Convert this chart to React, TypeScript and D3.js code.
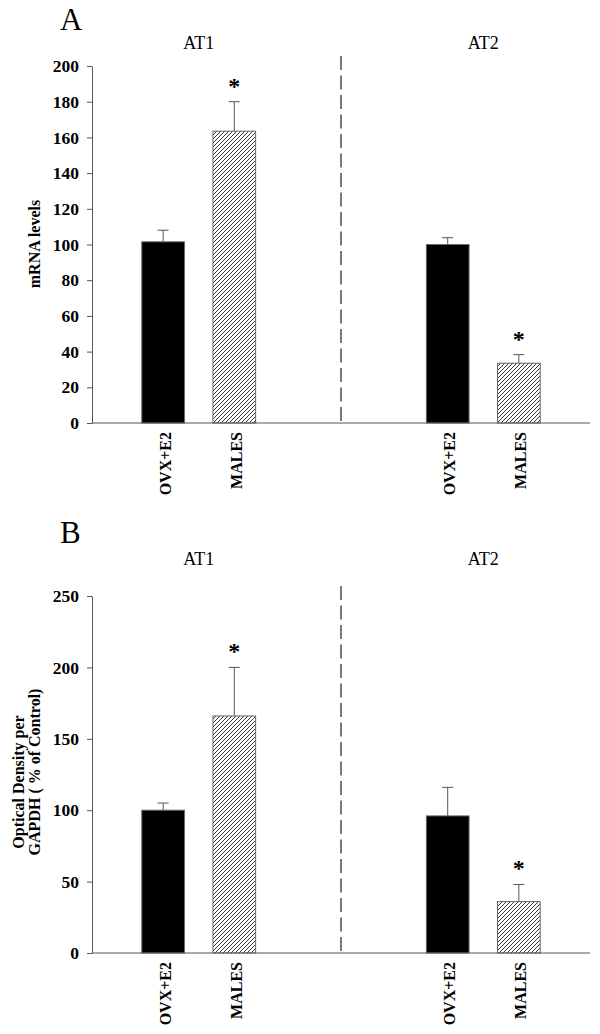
import { useEffect, useRef } from "react";
import * as d3 from "d3";

// ----- Data ------------------------------------------------------------------
const groups = ["AT1", "AT2"];
const conditions = ["OVX+E2", "MALES", "OVX+E2", "MALES"];
const slots = [1, 2, 5, 6]; // bar positions on the numeric x axis
const groupCentres = [1.5, 5.5];
const divider = 3.5;
const xDomain: [number, number] = [0, 7];
const hatched = [false, true, false, true];

// Panel A: mRNA levels
const mrnaMean = [101.5, 163.5, 100, 33.5];
const mrnaErr = [6.5, 16.5, 3.8, 4.8];
const mrnaStar = [false, true, false, true];
const mrnaTicks = [0, 20, 40, 60, 80, 100, 120, 140, 160, 180, 200];

// Panel B: optical density per GAPDH
const odMean = [100, 166, 96, 36];
const odErr = [5, 34, 20, 12];
const odStar = [false, true, false, true];
const odTicks = [0, 50, 100, 150, 200, 250];

const FONT = "'Liberation Serif', 'Times New Roman', serif";
const AXIS = "#555";

interface Panel {
  letter: string;
  letterY: number;
  titleY: number;
  top: number;
  bottom: number;
  ticks: number[];
  mean: number[];
  err: number[];
  star: boolean[];
  yLabel: string[];
  yLabelX: number[];
  yLabelY: number[];
}

const panels: Panel[] = [
  {
    letter: "A",
    letterY: 30,
    titleY: 49,
    top: 66,
    bottom: 423,
    ticks: mrnaTicks,
    mean: mrnaMean,
    err: mrnaErr,
    star: mrnaStar,
    yLabel: ["mRNA levels"],
    yLabelX: [40],
    yLabelY: [244],
  },
  {
    letter: "B",
    letterY: 543,
    titleY: 565,
    top: 596,
    bottom: 953,
    ticks: odTicks,
    mean: odMean,
    err: odErr,
    star: odStar,
    yLabel: ["Optical Density per", "GAPDH ( % of Control)"],
    yLabelX: [24, 40],
    yLabelY: [782, 772],
  },
];

const App = () => {
  const svgRef = useRef<SVGSVGElement | null>(null);

  useEffect(() => {
    const svg = d3.select(svgRef.current);
    svg.selectAll("*").remove();

    // hatch pattern for the MALES bars
    const defs = svg.append("defs");
    defs
      .append("pattern")
      .attr("id", "hatch")
      .attr("patternUnits", "userSpaceOnUse")
      .attr("width", 4)
      .attr("height", 4)
      .call((p: any) => {
        p.append("rect").attr("width", 4).attr("height", 4).attr("fill", "#fff");
        p.append("path")
          .attr("d", "M-1,1 l2,-2 M0,4 l4,-4 M3,5 l2,-2")
          .attr("stroke", "#222")
          .attr("stroke-width", 0.9);
      });

    const x = d3.scaleLinear().domain(xDomain).range([92, 590]);
    const barW = x(0.6) - x(0);

    panels.forEach((pn) => {
      const maxT = pn.ticks[pn.ticks.length - 1];
      const y = d3.scaleLinear().domain([0, maxT]).range([pn.bottom, pn.top]);
      const g = svg.append("g");

      // panel letter & group titles
      g.append("text")
        .attr("x", 60)
        .attr("y", pn.letterY)
        .attr("font-family", FONT)
        .attr("font-size", 31)
        .text(pn.letter);

      groups.forEach((grp, i) => {
        g.append("text")
          .attr("x", x(groupCentres[i]))
          .attr("y", pn.titleY)
          .attr("text-anchor", "middle")
          .attr("font-family", FONT)
          .attr("font-size", 18)
          .text(grp);
      });

      // dashed divider
      g.append("line")
        .attr("x1", x(divider))
        .attr("x2", x(divider))
        .attr("y1", pn.top - 10)
        .attr("y2", pn.bottom)
        .attr("stroke", "#333")
        .attr("stroke-width", 1.3)
        .attr("stroke-dasharray", "14,5.5");

      // bars
      slots.forEach((s, i) => {
        const bx = x(s) - barW / 2;
        g.append("rect")
          .attr("x", bx)
          .attr("y", y(pn.mean[i]))
          .attr("width", barW)
          .attr("height", y(0) - y(pn.mean[i]))
          .attr("fill", hatched[i] ? "url(#hatch)" : "#000")
          .attr("stroke", "#666")
          .attr("stroke-width", 1);

        // error bar
        const eTop = y(pn.mean[i] + pn.err[i]);
        g.append("line")
          .attr("x1", x(s))
          .attr("x2", x(s))
          .attr("y1", y(pn.mean[i]))
          .attr("y2", eTop)
          .attr("stroke", AXIS)
          .attr("stroke-width", 1);
        g.append("line")
          .attr("x1", x(s) - 5.5)
          .attr("x2", x(s) + 5.5)
          .attr("y1", eTop)
          .attr("y2", eTop)
          .attr("stroke", AXIS)
          .attr("stroke-width", 1);

        if (pn.star[i]) {
          g.append("text")
            .attr("x", x(s))
            .attr("y", eTop - 8)
            .attr("text-anchor", "middle")
            .attr("font-family", FONT)
            .attr("font-weight", "bold")
            .attr("font-size", 24)
            .text("*");
        }

        // rotated category label
        g.append("text")
          .attr(
            "transform",
            `translate(${x(s) + 7.5},${pn.bottom + 9}) rotate(-90)`,
          )
          .attr("text-anchor", "end")
          .attr("font-family", FONT)
          .attr("font-weight", "bold")
          .attr("font-size", 16)
          .text(conditions[i]);
      });

      // y axis
      const yAxis = g
        .append("g")
        .attr("transform", `translate(${x(0)},0)`)
        .call(
          d3
            .axisLeft(y)
            .tickValues(pn.ticks)
            .tickSize(5)
            .tickSizeOuter(0)
            .tickPadding(8),
        );
      yAxis.select(".domain").attr("stroke", AXIS);
      yAxis.selectAll(".tick line").attr("stroke", AXIS);
      yAxis
        .selectAll(".tick text")
        .attr("font-family", FONT)
        .attr("font-weight", "bold")
        .attr("font-size", 17.5)
        .attr("fill", "#000");

      // x axis baseline
      g.append("line")
        .attr("x1", x(xDomain[0]))
        .attr("x2", x(xDomain[1]))
        .attr("y1", y(0))
        .attr("y2", y(0))
        .attr("stroke", AXIS)
        .attr("stroke-width", 1.2);

      // y axis title
      pn.yLabel.forEach((t, i) => {
        g.append("text")
          .attr(
            "transform",
            `translate(${pn.yLabelX[i]},${pn.yLabelY[i]}) rotate(-90)`,
          )
          .attr("text-anchor", "middle")
          .attr("font-family", FONT)
          .attr("font-weight", "bold")
          .attr("font-size", 16)
          .text(t);
      });
    });
  }, []);

  return (
    <svg
      ref={svgRef}
      width={600}
      height={1034}
      style={{ position: "absolute", left: 0, top: 0, background: "#fff" }}
    />
  );
};

export default App;
